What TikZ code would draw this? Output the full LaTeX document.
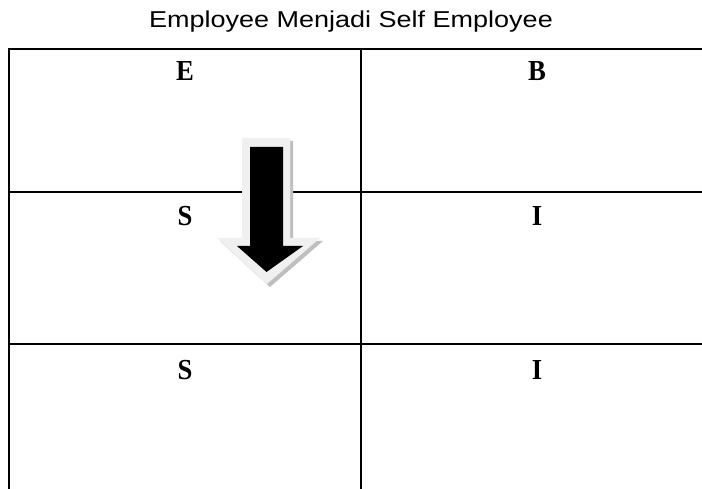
\documentclass[tikz,border=0pt]{standalone}
\usepackage{fontspec}
\setmainfont{Liberation Serif}
\newfontfamily\titlefont{Liberation Sans}
\begin{document}
\begin{tikzpicture}[x=1pt,y=-1pt,
  gridline/.style={line width=1.6pt, black},
  letter/.style={font=\fontsize{29}{31}\selectfont\bfseries, inner sep=0pt, anchor=base, xscale=0.92},
  titletext/.style={font=\titlefont\fontsize{27}{29}\selectfont, inner sep=0pt, anchor=base, yscale=0.85}]
\useasboundingbox[fill=white] (0,0) rectangle (702,489);
% title
\node[titletext] (title) at (351,28) {Employee Menjadi Self Employee};
% grid
\coordinate (tl) at (9,49);
\coordinate (tr) at (702,49);
\coordinate (tm) at (361,49);
\coordinate (bl) at (9,489);
\coordinate (bm) at (361,489);
\coordinate (r1l) at (9,192);
\coordinate (r1r) at (702,192);
\coordinate (r2l) at (9,344);
\coordinate (r2r) at (702,344);
\draw[gridline] (tr) -- (tl) -- (bl);
\draw[gridline] (tm) -- (bm);
\draw[gridline] (r1l) -- (r1r);
\draw[gridline] (r2l) -- (r2r);
% letters
\node[letter] (E) at (185,81) {E};
\node[letter] (B) at (537,81) {B};
\node[letter] (S1) at (185,226) {S};
\node[letter] (I1) at (537,226) {I};
\node[letter] (S2) at (185,379) {S};
\node[letter] (I2) at (537,379) {I};
% arrow: shadow, light outline, black
\fill[black!25] (245,141) -- (293,141) -- (293,241) -- (323,241) -- (270,287) -- (220,241) -- (245,241) -- cycle;
\fill[black!6] (242,138) -- (290,138) -- (290,238) -- (320,238) -- (267,284) -- (217,238) -- (242,238) -- cycle;
\fill[black] (250,147) -- (283,147) -- (283,246) -- (303,246) -- (266.5,272) -- (237,246) -- (250,246) -- cycle;
\end{tikzpicture}
\end{document}
